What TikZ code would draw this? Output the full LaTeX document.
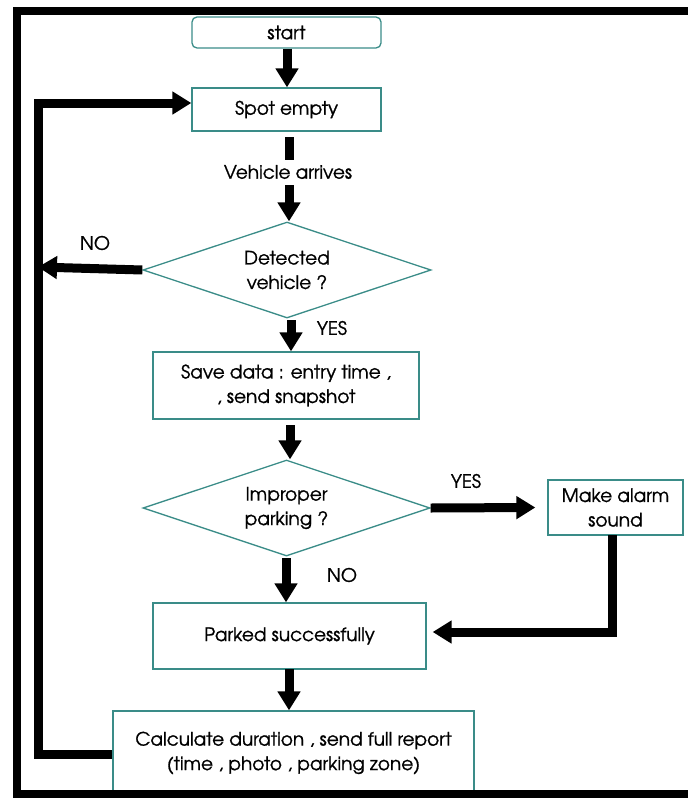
\documentclass[tikz,border=0pt]{standalone}
\usepackage{fontspec}
\setmainfont[FakeBold=1.1]{TeX Gyre Adventor}
\usetikzlibrary{arrows.meta,shapes.geometric}
\definecolor{tealedge}{RGB}{58,140,136}
\begin{document}
\begin{tikzpicture}[x=1pt,y=-1pt,
  txt/.style={font=\fontsize{18.5}{24.5}\selectfont, align=center, inner sep=0pt},
  box/.style={txt, draw=tealedge, line width=1.3pt, rectangle},
  dec/.style={txt, draw=tealedge, line width=1.3pt, diamond, shape aspect=3},
  flow/.style={line width=9pt, line join=miter, -{Triangle[width=22pt,length=19pt]}},
  bar/.style={line width=9pt},
]
\clip (0,0) rectangle (688,798);
\useasboundingbox (0,0) rectangle (688,798);

% process steps
\node[box, rounded corners=5pt, minimum width=189pt, minimum height=31pt] (start) at (286.5,32.5) {start};
\node[box, minimum width=189pt, minimum height=43pt] (spot) at (286.5,109.5) {Spot empty};
\node[txt] (arrive) at (288,172) {Vehicle arrives};
\node[dec, minimum width=288pt, minimum height=96pt] (det) at (287,270) {Detected\\vehicle ?};
\node[box, minimum width=266pt, minimum height=67pt] (save) at (286,385.5) {Save data : entry time ,\\, send snapshot};
\node[dec, minimum width=287pt, minimum height=96pt] (imp) at (286.5,508) {Improper\\parking ?};
\node[box, minimum width=135pt, minimum height=55pt] (alarm) at (615.5,507.5) {Make alarm\\sound};
\node[box, minimum width=273pt, minimum height=66pt] (parked) at (289.5,636) {Parked successfully};
\node[box, minimum width=361pt, minimum height=84pt] (calc) at (293.5,753) {Calculate duration , send full report\\(time , photo , parking zone)};

% branch labels
\node[txt] (noA) at (95,243) {NO};
\node[txt] (yesA) at (332,328) {YES};
\node[txt] (yesB) at (466,481) {YES};
\node[txt] (noB) at (342,575) {NO};

% turning points of the return loop
\coordinate (loopB) at (38,754);
\coordinate (loopT) at (38,103);
\coordinate (noEnd) at (38,267);
\coordinate (alarmC) at (612,632);

% connectors
\draw[flow] (start.south -| 287,0) -- (spot.north -| 287,0);
\draw[bar] (289,137) -- (289,160);
\draw[flow] (289,185) -- (det.north -| 289,0);
\draw[flow] (det.west) -- (noEnd);
\draw[flow] (291,320) -- (save.north -| 291,0);
\draw[flow] (290,425) -- (imp.north -| 290,0);
\draw[flow] (imp.east) -- ([xshift=-12pt]alarm.west);
\draw[flow] (612,535) -- (alarmC) -- ([xshift=6pt]parked.east |- alarmC);
\draw[flow] (286,558) -- (parked.north -| 286,0);
\draw[flow] (289,669) -- (calc.north -| 289,0);
\draw[flow] (calc.west |- loopB) -- (loopB) -- (loopT) -- (spot.west |- loopT);

% outer frame
\draw[line width=8pt] (16.5,11) rectangle (705,793.5);
\end{tikzpicture}
\end{document}
